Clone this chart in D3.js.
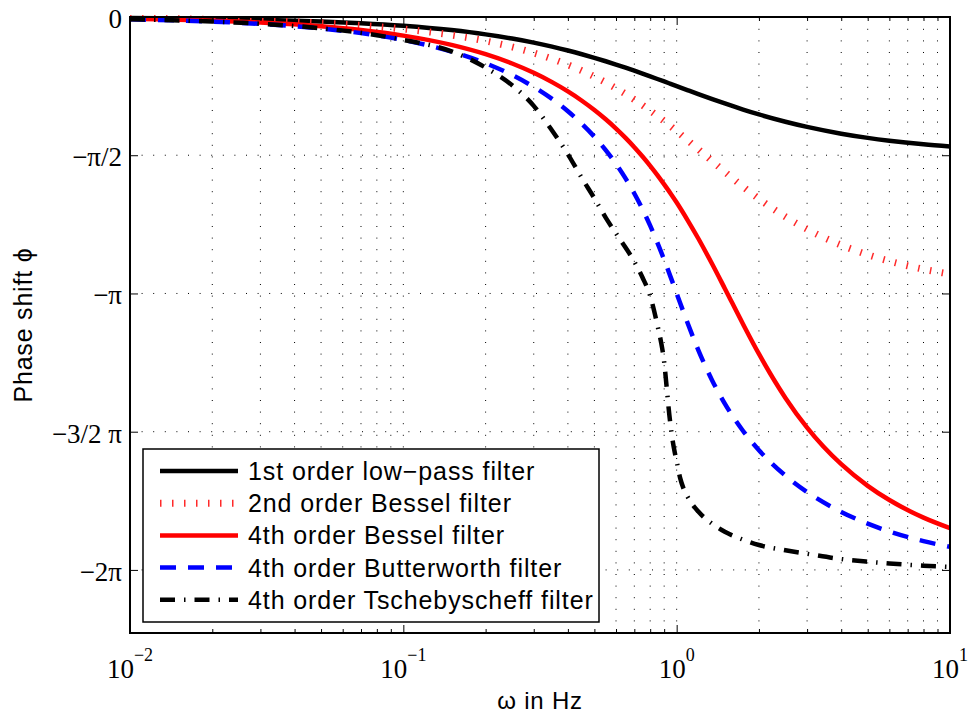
<!DOCTYPE html>
<html>
<head>
<meta charset="utf-8">
<script src="https://cdn.jsdelivr.net/npm/d3@7"></script>
<style>
body { margin: 0; background: #fff; }
</style>
</head>
<body>
<div id="chart"></div>
<script>
// Frequencies (Hz) used by the first four curves
var freq = [0.01, 0.02, 0.03, 0.05, 0.07, 0.1, 0.15, 0.2, 0.25, 0.3, 0.35, 0.4, 0.45, 0.5,
    0.55, 0.6, 0.65, 0.7, 0.75, 0.8, 0.85, 0.9, 0.95, 1, 1.1, 1.2, 1.35, 1.5, 1.75, 2,
    2.5, 3, 4, 5, 6, 8, 10];

// Phase in rad, one value per entry of freq
var lowPass1 = [-0.0100, -0.0200, -0.0300, -0.0500, -0.0699, -0.0997, -0.1489, -0.1974,
    -0.2450, -0.2915, -0.3367, -0.3805, -0.4229, -0.4636, -0.5028, -0.5404, -0.5764,
    -0.6107, -0.6435, -0.6747, -0.7045, -0.7328, -0.7598, -0.7854, -0.8330, -0.8761,
    -0.9332, -0.9828, -1.0517, -1.1071, -1.1903, -1.2490, -1.3258, -1.3734, -1.4056,
    -1.4464, -1.4711];
var bessel2 = [-0.0136, -0.0272, -0.0409, -0.0681, -0.0953, -0.1362, -0.2043, -0.2723,
    -0.3404, -0.4084, -0.4761, -0.5435, -0.6110, -0.6779, -0.7444, -0.8102, -0.8752,
    -0.9391, -1.0024, -1.0643, -1.1248, -1.1839, -1.2414, -1.2973, -1.4040, -1.5036,
    -1.6395, -1.7598, -1.9292, -2.0662, -2.2699, -2.4113, -2.5917, -2.7012, -2.7746,
    -2.8663, -2.9213];
var bessel4 = [-0.0211, -0.0423, -0.0634, -0.1057, -0.1480, -0.2114, -0.3171, -0.4228,
    -0.5285, -0.6342, -0.7399, -0.8456, -0.9513, -1.0570, -1.1626, -1.2683, -1.3740,
    -1.4797, -1.5854, -1.6911, -1.7968, -1.9023, -2.0051, -2.1080, -2.3158, -2.5171,
    -2.8098, -3.0844, -3.4910, -3.8290, -4.3282, -4.6660, -5.0821, -5.3274, -5.4892,
    -5.6895, -5.8090];
var butter4 = [-0.0261, -0.0523, -0.0784, -0.1307, -0.1831, -0.2617, -0.3933, -0.5256,
    -0.6590, -0.7944, -0.9311, -1.0711, -1.2141, -1.3605, -1.5121, -1.6695, -1.8339,
    -2.0055, -2.1845, -2.3713, -2.5636, -2.7587, -2.9528, -3.1416, -3.4889, -3.7843,
    -4.1322, -4.3928, -4.7044, -4.9227, -5.2121, -5.3977, -5.6242, -5.7577, -5.8458,
    -5.9558, -6.0215];

// Tschebyscheff curve has its own, denser frequency points near the steep part
var freqCheb = [0.01, 0.02, 0.03, 0.05, 0.07, 0.1, 0.15, 0.2, 0.25, 0.3, 0.35, 0.4, 0.45,
    0.5, 0.55, 0.6, 0.65, 0.7, 0.75, 0.8, 0.85, 0.875, 0.9, 0.92, 0.94, 0.96, 0.98, 1,
    1.03, 1.06, 1.1, 1.2, 1.35, 1.5, 1.75, 2, 2.5, 3, 4, 5, 6, 8, 10];
var cheb4 = [-0.025, -0.051, -0.077, -0.128, -0.180, -0.260, -0.390, -0.575, -0.775,
    -1.010, -1.290, -1.560, -1.830, -2.060, -2.280, -2.460, -2.620, -2.780, -2.960,
    -3.170, -3.500, -3.680, -3.920, -4.220, -4.520, -4.750, -4.920, -5.050, -5.240,
    -5.360, -5.460, -5.620, -5.760, -5.850, -5.940, -6.000, -6.060, -6.100, -6.160,
    -6.190, -6.210, -6.235, -6.250];

var seriesNames = ["1st order low\u2212pass filter", "2nd order Bessel filter",
    "4th order Bessel filter", "4th order Butterworth filter",
    "4th order Tschebyscheff filter"];

// Axis ticks
var yTickValues = [0, -Math.PI / 2, -Math.PI, -1.5 * Math.PI, -2 * Math.PI];
var yTickLabels = ["0", "\u2212\u03c0/2", "\u2212\u03c0", "\u22123/2 \u03c0", "\u22122\u03c0"];
var xMajor = [0.01, 0.1, 1, 10];
var xExponents = ["\u22122", "\u22121", "0", "1"];

var w = 970;
var h = 718;
var plotLeft = 130, plotRight = 950, plotTop = 17, plotBottom = 633;

var xScale = d3.scaleLog().domain([0.01, 10]).range([plotLeft, plotRight]);
var yScale = d3.scaleLinear().domain([-7, 0]).range([plotBottom, plotTop]);

var svg = d3.select("#chart").append("svg")
    .attr("width", w)
    .attr("height", h)
    .style("font-family", "'Liberation Sans', Arial, sans-serif");

svg.append("rect").attr("width", w).attr("height", h).attr("fill", "#fff");

svg.append("clipPath").attr("id", "plotclip")
    .append("rect")
    .attr("x", plotLeft).attr("y", plotTop - 2)
    .attr("width", plotRight - plotLeft).attr("height", plotBottom - plotTop + 2);

// all log ticks (1..9 per decade) for grid and minor ticks
var xAll = xScale.ticks();
var xMinor = xAll.filter(function (d) { return xMajor.indexOf(d) < 0; });

// dotted grid
var grid = svg.append("g").attr("stroke", "#000").attr("stroke-width", 1)
    .attr("stroke-dasharray", "1,10.6");
grid.selectAll("line.vx")
    .data(xAll.filter(function (d) { return d > 0.01 && d < 10; }))
    .enter().append("line")
    .attr("x1", function (d) { return xScale(d); })
    .attr("x2", function (d) { return xScale(d); })
    .attr("y1", plotBottom)
    .attr("y2", plotTop);
grid.selectAll("line.hy")
    .data(yTickValues.slice(1))
    .enter().append("line")
    .attr("x1", plotLeft)
    .attr("x2", plotRight)
    .attr("y1", function (d) { return yScale(d); })
    .attr("y2", function (d) { return yScale(d); });

// curves
var series = [
    { name: seriesNames[0], x: freq, y: lowPass1, color: "#000000", width: 4.5, dash: null },
    { name: seriesNames[1], x: freq, y: bessel2, color: "#ff2a2a", width: 7, dash: "1.5,10.5" },
    { name: seriesNames[2], x: freq, y: bessel4, color: "#ff0000", width: 4.5, dash: null },
    { name: seriesNames[3], x: freq, y: butter4, color: "#0000ff", width: 4.5, dash: "16,12" },
    { name: seriesNames[4], x: freqCheb, y: cheb4, color: "#000000", width: 4.5, dash: "15,9,1.5,9" }
];

var line = d3.line()
    .x(function (d) { return xScale(d[0]); })
    .y(function (d) { return yScale(d[1]); })
    .curve(d3.curveMonotoneX);

var curves = svg.append("g").attr("clip-path", "url(#plotclip)");
series.forEach(function (s) {
    curves.append("path")
        .datum(d3.zip(s.x, s.y))
        .attr("d", line)
        .attr("fill", "none")
        .attr("stroke", s.color)
        .attr("stroke-width", s.width)
        .attr("stroke-dasharray", s.dash);
});

// axes with inward ticks on all four sides
function strip(g) {
    g.select(".domain").remove();
    g.selectAll("text").remove();
    g.selectAll("line").attr("stroke", "#000").attr("stroke-width", 1);
}
svg.append("g").attr("transform", "translate(0," + plotBottom + ")")
    .call(d3.axisBottom(xScale).tickValues(xMajor).tickSize(-8)).call(strip);
svg.append("g").attr("transform", "translate(0," + plotBottom + ")")
    .call(d3.axisBottom(xScale).tickValues(xMinor).tickSize(-4)).call(strip);
svg.append("g").attr("transform", "translate(0," + plotTop + ")")
    .call(d3.axisTop(xScale).tickValues(xMajor).tickSize(-8)).call(strip);
svg.append("g").attr("transform", "translate(0," + plotTop + ")")
    .call(d3.axisTop(xScale).tickValues(xMinor).tickSize(-4)).call(strip);
svg.append("g").attr("transform", "translate(" + plotLeft + ",0)")
    .call(d3.axisLeft(yScale).tickValues(yTickValues).tickSize(-8)).call(strip);
svg.append("g").attr("transform", "translate(" + plotRight + ",0)")
    .call(d3.axisRight(yScale).tickValues(yTickValues).tickSize(-8)).call(strip);

// plot box
svg.append("rect")
    .attr("x", plotLeft).attr("y", plotTop)
    .attr("width", plotRight - plotLeft).attr("height", plotBottom - plotTop)
    .attr("fill", "none").attr("stroke", "#000").attr("stroke-width", 2);

// y tick labels (serif)
svg.selectAll("text.ylab")
    .data(yTickValues)
    .enter().append("text")
    .attr("class", "ylab")
    .attr("x", plotLeft - 8)
    .attr("y", function (d) { return yScale(d) + 11; })
    .attr("text-anchor", "end")
    .style("font-family", "'Liberation Serif', 'Times New Roman', serif")
    .style("font-size", "27px")
    .text(function (d, i) { return yTickLabels[i]; });

// x tick labels 10^n
var xl = svg.selectAll("text.xlab")
    .data(xMajor)
    .enter().append("text")
    .attr("class", "xlab")
    .attr("x", function (d) { return xScale(d); })
    .attr("y", 678)
    .attr("text-anchor", "middle")
    .style("font-family", "'Liberation Serif', 'Times New Roman', serif")
    .style("font-size", "27px");
xl.append("tspan").text("10");
xl.append("tspan")
    .attr("dy", -17)
    .style("font-size", "18px")
    .text(function (d, i) { return xExponents[i]; });

// axis titles
svg.append("text")
    .attr("x", (plotLeft + plotRight) / 2)
    .attr("y", 709)
    .attr("text-anchor", "middle")
    .style("font-size", "24px")
    .style("letter-spacing", "0.8px")
    .text("\u03c9 in Hz");

svg.append("text")
    .attr("transform", "translate(32," + (plotTop + plotBottom) / 2 + ") rotate(-90)")
    .attr("text-anchor", "middle")
    .style("font-size", "25px")
    .style("letter-spacing", "0.8px")
    .text("Phase shift \u03d5");

// legend
var legend = svg.append("g");
legend.append("rect")
    .attr("x", 143).attr("y", 449)
    .attr("width", 456).attr("height", 173)
    .attr("fill", "#fff").attr("stroke", "#000").attr("stroke-width", 1.5);

var rows = legend.selectAll("g.row")
    .data(series)
    .enter().append("g")
    .attr("transform", function (d, i) { return "translate(0," + (471 + i * 32.2) + ")"; });
rows.append("line")
    .attr("x1", 160).attr("x2", 238)
    .attr("stroke", function (d) { return d.color; })
    .attr("stroke-width", function (d) { return d.width; })
    .attr("stroke-dasharray", function (d) { return d.dash; });
rows.append("text")
    .attr("x", 248)
    .attr("y", 9)
    .style("font-size", "25px")
    .style("letter-spacing", "0.9px")
    .text(function (d) { return d.name; });
</script>
</body>
</html>
